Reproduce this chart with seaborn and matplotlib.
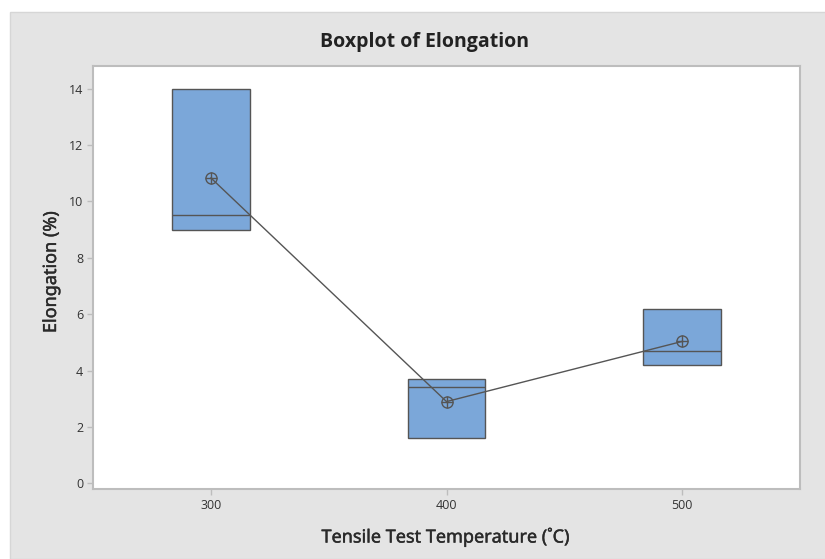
import pandas as pd
import numpy as np
import matplotlib.pyplot as plt
import matplotlib.patheffects as pe
import seaborn as sns
from matplotlib.patches import Rectangle

# Observations per test temperature
temps = ['300', '400', '500']
elong_300 = [9.0, 9.5, 14.0]
elong_400 = [1.6, 3.4, 3.7]
elong_500 = [4.2, 4.7, 6.2]

df = pd.DataFrame({
    'Temperature': np.repeat(temps, 3),
    'Elongation': elong_300 + elong_400 + elong_500,
})

sns.set_theme(style='white')
plt.rcParams['font.family'] = ['Open Sans', 'DejaVu Sans']


def minitab_stats(vals, label):
    # Minitab quartiles: position (n+1)p, no whiskers beyond the box here
    v = np.sort(np.asarray(vals))
    n = len(v)

    def q(p):
        pos = (n + 1) * p
        lo = int(np.floor(pos))
        frac = pos - lo
        lo = min(max(lo, 1), n)
        hi = min(lo + 1, n)
        return v[lo - 1] + frac * (v[hi - 1] - v[lo - 1])

    q1, med, q3 = q(0.25), np.median(v), q(0.75)
    return dict(label=label, q1=q1, med=med, q3=q3,
                whislo=q1, whishi=q3, fliers=[])


fig = plt.figure(figsize=(8.25, 5.59), dpi=100)
fig.patch.set_facecolor('white')
fig.patches.append(Rectangle((10 / 825, 0), 1, 1 - 12 / 559, transform=fig.transFigure,
                             facecolor='#e4e4e4', edgecolor='#d6d6d6', lw=1, zorder=-10))

ax = fig.add_axes([93 / 825, 70 / 559, 707 / 825, 423 / 559])
ax.set_facecolor('white')

stats = [minitab_stats(g['Elongation'], t) for t, g in df.groupby('Temperature', sort=False)]
ax.bxp(stats, positions=range(len(temps)), widths=0.33, patch_artist=True,
       showcaps=False,
       boxprops=dict(facecolor='#7ba7d9', edgecolor='#555555', linewidth=1.0),
       medianprops=dict(color='#555555', linewidth=1.0),
       whiskerprops=dict(color='#555555', linewidth=0))

# Mean connect line with circled-cross symbols
sns.pointplot(data=df, x='Temperature', y='Elongation', estimator='mean', errorbar=None,
              color='#555555', markers='o', linestyles='-', ax=ax,
              markersize=8, markerfacecolor='none', markeredgewidth=1.0, linewidth=1.0)
sns.pointplot(data=df, x='Temperature', y='Elongation', estimator='mean', errorbar=None,
              color='#555555', markers='+', linestyles='none', ax=ax,
              markersize=8, markeredgewidth=1.0)

ax.set_xlim(-0.5, 2.5)
ax.set_ylim(-0.2, 14.8)
ax.set_yticks(range(0, 15, 2))
ax.set_xticks(range(len(temps)))
ax.set_xticklabels(temps)
ax.set_xlabel('')
ax.set_ylabel('')

for s in ax.spines.values():
    s.set_color('#bdbdbd')
    s.set_linewidth(1.5)
ax.tick_params(axis='both', which='both', length=4, width=1, color='#bdbdbd',
               labelsize=9, labelcolor='#333333', direction='out', pad=3)
ax.tick_params(left=True, bottom=True)

# semibold look: regular glyphs with a thin stroke
label_font = ['Noto Sans', 'DejaVu Sans']
semi = [pe.withStroke(linewidth=0.3, foreground='#2a2a2a')]
fig.text(425 / 825, 1 - 42 / 559, 'Boxplot of Elongation', ha='center', va='center',
         fontsize=14, fontweight='bold', color='#222222')
fig.text(446 / 825, 1 - 537 / 559, 'Tensile Test Temperature (˚C)', ha='center', va='center',
         fontsize=13, family=label_font, color='#2a2a2a', path_effects=semi)
fig.text(51 / 825, 1 - 272 / 559, 'Elongation (%)', ha='center', va='center',
         rotation=90, fontsize=13, family=label_font, color='#2a2a2a', path_effects=semi)

plt.savefig('out.png', dpi=100, facecolor=fig.get_facecolor())
